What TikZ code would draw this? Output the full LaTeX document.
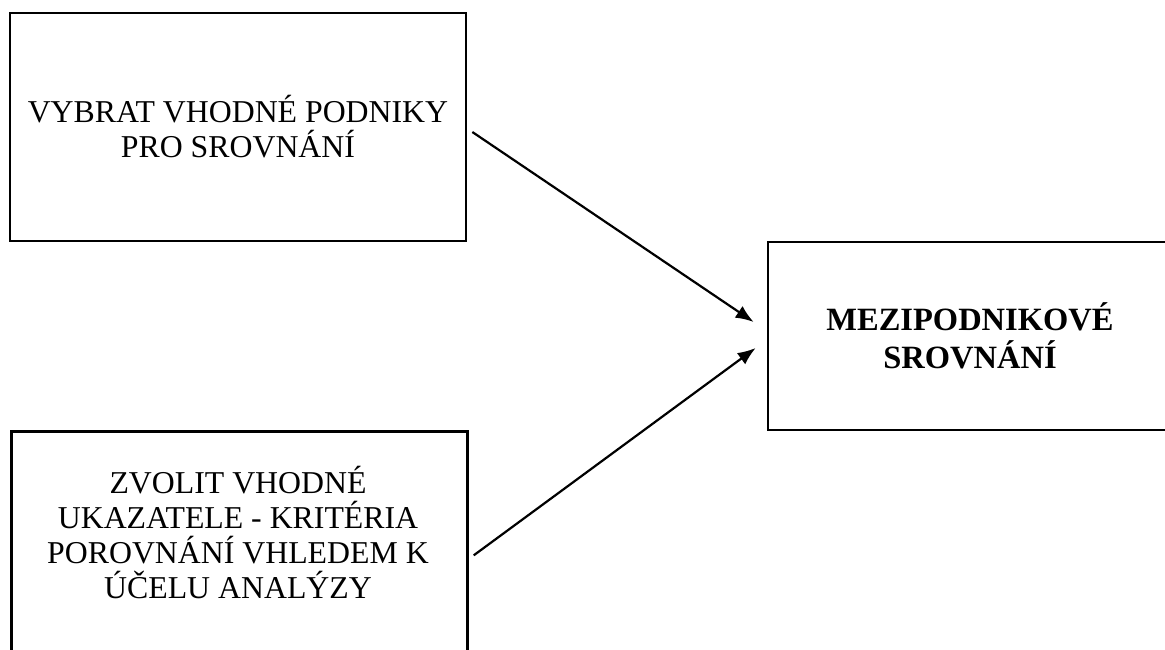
\documentclass[tikz,border=0pt]{standalone}
\usepackage{fontspec}
\setmainfont{Liberation Serif}
\usetikzlibrary{arrows.meta}
\tikzset{
    stage-box/.style = {draw=black, line width=2.7pt, rectangle, minimum width=456pt, minimum height=228pt, inner sep=0pt},
    stage-text/.style = {align=center, font=\fontsize{31.8}{35}\selectfont},
    flow-arrow/.style = {-{Latex[length=18pt,width=14pt]}, line width=2.2pt},
}

\begin{document}
\begin{tikzpicture}[x=1pt,y=1pt]
\useasboundingbox (0,0) rectangle (1165,-650);
\node [stage-box, stage-text] (firms) at (238,-127) {VYBRAT VHODNÉ PODNIKY\\PRO SROVNÁNÍ};
\node [stage-box, anchor=north west] (crit) at (10,-430) {};
\node [stage-text] (crit-text) at (238,-533) {ZVOLIT VHODNÉ\\UKAZATELE - KRITÉRIA\\POROVNÁNÍ VHLEDEM K\\ÚČELU ANALÝZY};
\node [stage-box, stage-text, minimum width=404pt, minimum height=188pt, font=\fontsize{32.5}{38}\selectfont\bfseries] (compare) at (970,-336) {MEZIPODNIKOVÉ\\SROVNÁNÍ};
\draw [flow-arrow] ([shift={(5pt,-5pt)}]firms.east) -- ([shift={(-13pt,14pt)}]compare.west);
\draw [flow-arrow] ([shift={(5pt,-10pt)}]crit.east) -- ([shift={(-11pt,-12pt)}]compare.west);
\end{tikzpicture}
\end{document}
